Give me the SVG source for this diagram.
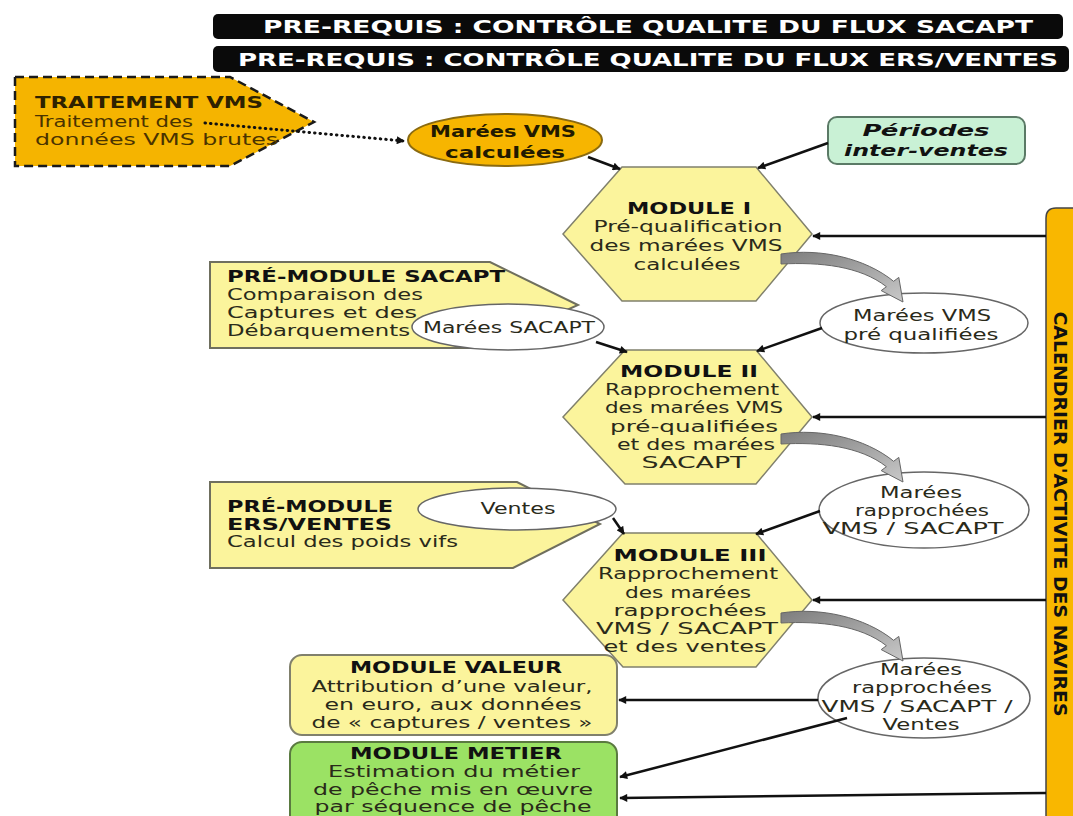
<svg xmlns="http://www.w3.org/2000/svg" width="1073" height="816" viewBox="0 0 1073 816">
<defs>
<marker id="ah" viewBox="0 0 10 10" refX="9" refY="5" markerWidth="9" markerHeight="8" markerUnits="userSpaceOnUse" orient="auto"><path d="M0,0 L10,5 L0,10 z" fill="#111"/></marker>
<linearGradient id="gg" x1="0" y1="0" x2="1" y2="1"><stop offset="0" stop-color="#7d7d7d"/><stop offset="1" stop-color="#c9c9c9"/></linearGradient>
<path id="curv" d="M781,254 C820,248 865,258 893.6,281.3 L898.8,277.4 L903,302 L881.2,290.6 L886.4,286.7 C860,266 820,262 781,264 Z"/>
</defs>
<style>
text{font-family:"DejaVu Sans","Verdana",sans-serif;font-size:15px;fill:#2a2a1a}
.b{font-weight:bold;fill:#111}
.ban{font-weight:bold;font-size:17px;fill:#fff}
.c{text-anchor:middle}
.hex{fill:#fbf49c;stroke:#80806c;stroke-width:1.5}
.pre{fill:#fbf49c;stroke:#6f6f5e;stroke-width:2}
.ell{fill:#fff;stroke:#666;stroke-width:1.5}
.ln{stroke:#111;stroke-width:2.5;fill:none;marker-end:url(#ah)}
.ga{fill:url(#gg);stroke:#666;stroke-width:1}
</style>
<rect width="1073" height="816" fill="#fff"/>

<g id="banner1"><rect x="213" y="14" width="850" height="25" rx="5" fill="#0a0a0a"/><text class="ban c" x="648" y="33" textLength="770" lengthAdjust="spacingAndGlyphs">PRE-REQUIS : CONTRÔLE QUALITE DU FLUX SACAPT</text></g>
<g id="banner2"><rect x="213" y="46" width="856" height="26" rx="5" fill="#0a0a0a"/><text class="ban c" x="648" y="66" textLength="820" lengthAdjust="spacingAndGlyphs">PRE-REQUIS : CONTRÔLE QUALITE DU FLUX ERS/VENTES</text></g>

<g id="traitement">
<polygon points="15,77 230,77 314,122 230,166 15,166" fill="#f5b400" stroke="#1a1a1a" stroke-width="2.5" stroke-dasharray="9,5"/>
<text class="b" x="35" y="108" textLength="228" lengthAdjust="spacingAndGlyphs" style="fill:#2e2200">TRAITEMENT VMS</text>
<text x="35" y="127" textLength="158" lengthAdjust="spacingAndGlyphs" style="fill:#4a3300">Traitement des</text>
<text x="35" y="145" textLength="243" lengthAdjust="spacingAndGlyphs" style="fill:#4a3300">données VMS brutes</text>
</g>

<g id="vms-calc"><ellipse cx="505" cy="140" rx="97" ry="26" fill="#f7b500" stroke="#8a6a10" stroke-width="2"/>
<text class="b c" x="503" y="137" textLength="146" lengthAdjust="spacingAndGlyphs" style="fill:#221a00">Marées VMS</text>
<text class="b c" x="505" y="158" textLength="120" lengthAdjust="spacingAndGlyphs" style="fill:#221a00">calculées</text></g>

<g id="periodes"><rect x="828" y="117" width="197" height="47" rx="9" fill="#c9f1d5" stroke="#5b7a66" stroke-width="2"/>
<text class="b c" x="926" y="136" font-style="italic" textLength="127" lengthAdjust="spacingAndGlyphs">Périodes</text>
<text class="b c" x="926" y="156" font-style="italic" textLength="164" lengthAdjust="spacingAndGlyphs">inter-ventes</text></g>

<g id="calendrier"><path d="M1046,818 V218 Q1046,208 1056,208 H1075 V818 Z" fill="#f9b700" stroke="#444" stroke-width="1.5"/>
<text class="b c" transform="translate(1060,514) rotate(90)" x="0" y="6" style="font-size:17px" textLength="405" lengthAdjust="spacingAndGlyphs">CALENDRIER D'ACTIVITE DES NAVIRES</text></g>

<g id="module1"><polygon class="hex" points="622,167 756,167 812,234 756,301 622,301 563,234"/>
<text class="b c" x="689" y="214" textLength="124" lengthAdjust="spacingAndGlyphs">MODULE I</text>
<text class="c" x="688" y="232" textLength="189" lengthAdjust="spacingAndGlyphs">Pré-qualification</text>
<text class="c" x="686" y="251" textLength="193" lengthAdjust="spacingAndGlyphs">des marées VMS</text>
<text class="c" x="687" y="270" textLength="107" lengthAdjust="spacingAndGlyphs">calculées</text></g>

<g id="premodule-sacapt"><polygon class="pre" points="210,262 490,262 578,305 483,348 210,348"/>
<text class="b" x="227" y="282" textLength="278" lengthAdjust="spacingAndGlyphs">PRÉ-MODULE SACAPT</text>
<text x="227" y="300" textLength="196" lengthAdjust="spacingAndGlyphs">Comparaison des</text>
<text x="227" y="318" textLength="190" lengthAdjust="spacingAndGlyphs">Captures et des</text>
<text x="227" y="336" textLength="183" lengthAdjust="spacingAndGlyphs">Débarquements</text></g>

<g id="marees-sacapt"><ellipse class="ell" cx="508" cy="327" rx="96" ry="23"/>
<text class="c" x="509" y="333" textLength="172" lengthAdjust="spacingAndGlyphs">Marées SACAPT</text></g>

<g id="vms-prequal"><ellipse class="ell" cx="924" cy="323" rx="104" ry="30"/>
<text class="c" x="922" y="321" textLength="138" lengthAdjust="spacingAndGlyphs">Marées VMS</text>
<text class="c" x="921" y="340" textLength="155" lengthAdjust="spacingAndGlyphs">pré qualifiées</text></g>

<g id="module2"><polygon class="hex" points="625,350 756,350 812,417 756,484 625,484 563,417"/>
<text class="b c" x="689" y="377" textLength="138" lengthAdjust="spacingAndGlyphs">MODULE II</text>
<text class="c" x="692" y="395" textLength="174" lengthAdjust="spacingAndGlyphs">Rapprochement</text>
<text class="c" x="694" y="413" textLength="178" lengthAdjust="spacingAndGlyphs">des marées  VMS</text>
<text class="c" x="694" y="432" textLength="168" lengthAdjust="spacingAndGlyphs">pré-qualifiées</text>
<text class="c" x="696" y="450" textLength="158" lengthAdjust="spacingAndGlyphs">et des marées</text>
<text class="c" x="694" y="468" textLength="105" lengthAdjust="spacingAndGlyphs">SACAPT</text></g>

<g id="rapp-vms-sacapt"><ellipse class="ell" cx="924" cy="510" rx="105" ry="38"/>
<text class="c" x="921" y="498" textLength="82" lengthAdjust="spacingAndGlyphs">Marées</text>
<text class="c" x="922" y="516" textLength="134" lengthAdjust="spacingAndGlyphs">rapprochées</text>
<text class="c" x="913" y="534" textLength="181" lengthAdjust="spacingAndGlyphs">VMS / SACAPT</text></g>

<g id="premodule-ers"><polygon class="pre" points="210,482 517,482 600,524 513,568 210,568"/>
<text class="b" x="227" y="512" textLength="166" lengthAdjust="spacingAndGlyphs">PRÉ-MODULE</text>
<text class="b" x="227" y="530" textLength="165" lengthAdjust="spacingAndGlyphs">ERS/VENTES</text>
<text x="227" y="547" textLength="231" lengthAdjust="spacingAndGlyphs">Calcul des poids vifs</text></g>

<g id="ventes"><ellipse class="ell" cx="517" cy="509" rx="99" ry="21"/>
<text class="c" x="518" y="514" textLength="75" lengthAdjust="spacingAndGlyphs">Ventes</text></g>

<g id="module3"><polygon class="hex" points="623,533 756,533 812,600 756,667 623,667 563,600"/>
<text class="b c" x="690" y="561" textLength="153" lengthAdjust="spacingAndGlyphs">MODULE III</text>
<text class="c" x="688" y="579" textLength="180" lengthAdjust="spacingAndGlyphs">Rapprochement</text>
<text class="c" x="688" y="598" textLength="126" lengthAdjust="spacingAndGlyphs">des marées</text>
<text class="c" x="690" y="616" textLength="153" lengthAdjust="spacingAndGlyphs">rapprochées</text>
<text class="c" x="687" y="634" textLength="182" lengthAdjust="spacingAndGlyphs">VMS / SACAPT</text>
<text class="c" x="685" y="652" textLength="163" lengthAdjust="spacingAndGlyphs">et des ventes</text></g>

<g id="rapp-vms-sacapt-ventes"><ellipse class="ell" cx="924" cy="698" rx="106" ry="40"/>
<text class="c" x="921" y="675" textLength="82" lengthAdjust="spacingAndGlyphs">Marées</text>
<text class="c" x="922" y="693" textLength="140" lengthAdjust="spacingAndGlyphs">rapprochées</text>
<text class="c" x="917" y="712" textLength="191" lengthAdjust="spacingAndGlyphs">VMS / SACAPT /</text>
<text class="c" x="921" y="730" textLength="77" lengthAdjust="spacingAndGlyphs">Ventes</text></g>

<g id="module-valeur"><rect x="290" y="655" width="327" height="80" rx="12" fill="#fbf49c" stroke="#80806c" stroke-width="2"/>
<text class="b c" x="456" y="673" textLength="212" lengthAdjust="spacingAndGlyphs">MODULE VALEUR</text>
<text class="c" x="452" y="692" textLength="281" lengthAdjust="spacingAndGlyphs">Attribution d’une valeur,</text>
<text class="c" x="453" y="710" textLength="257" lengthAdjust="spacingAndGlyphs">en euro, aux données</text>
<text class="c" x="452" y="728" textLength="281" lengthAdjust="spacingAndGlyphs">de « captures / ventes »</text></g>

<g id="module-metier"><rect x="290" y="742" width="327" height="95" rx="12" fill="#9be264" stroke="#5a7a40" stroke-width="2"/>
<text class="b c" x="456" y="759" textLength="212" lengthAdjust="spacingAndGlyphs">MODULE METIER</text>
<text class="c" x="454" y="777" textLength="252" lengthAdjust="spacingAndGlyphs">Estimation du métier</text>
<text class="c" x="453" y="795" textLength="280" lengthAdjust="spacingAndGlyphs">de pêche mis en œuvre</text>
<text class="c" x="453" y="812" textLength="277" lengthAdjust="spacingAndGlyphs">par séquence de pêche</text></g>

<g id="connectors">
<path d="M205,123 L404,141" stroke="#111" stroke-width="3" stroke-dasharray="0.5 5" stroke-linecap="round" fill="none" marker-end="url(#ah)"/>
<path class="ln" d="M588,157 L620,169"/>
<path class="ln" d="M828,143 L758,168"/>
<path class="ln" d="M1046,236 L813,236"/>
<path class="ln" d="M1046,417 L813,417"/>
<path class="ln" d="M1046,600 L813,600"/>
<path class="ln" d="M1046,793 L620,798"/>
<path class="ln" d="M822,328 L757,351"/>
<path class="ln" d="M596,342 L627,352"/>
<path class="ln" d="M820,511 L756,534"/>
<path class="ln" d="M613,518 L624,534"/>
<path class="ln" d="M818,700 L619,700"/>
<path class="ln" d="M847,718 L620,777"/>
<use href="#curv" class="ga"/>
<use href="#curv" class="ga" transform="translate(0,180)"/>
<use href="#curv" class="ga" transform="translate(0,359)"/>
</g>
</svg>
